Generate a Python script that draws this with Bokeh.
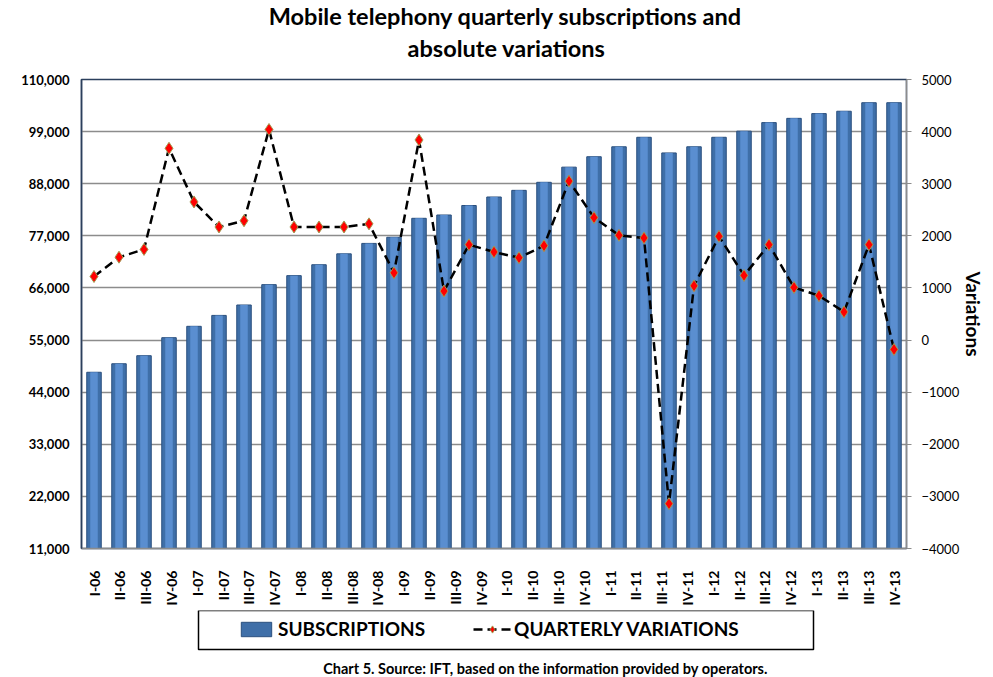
import numpy as np
from bokeh.plotting import figure
from bokeh.layouts import column
from bokeh.models import (Range1d, LinearAxis, FixedTicker, NumeralTickFormatter,
                          Legend, LegendItem, ColumnDataSource, Label, BoxAnnotation)
from bokeh.embed import file_html
from bokeh.resources import INLINE

# ---- data (thousands) ----
quarter_labels = ["I-06", "II-06", "III-06", "IV-06", "I-07", "II-07", "III-07", "IV-07",
                  "I-08", "II-08", "III-08", "IV-08", "I-09", "II-09", "III-09", "IV-09",
                  "I-10", "II-10", "III-10", "IV-10", "I-11", "II-11", "III-11", "IV-11",
                  "I-12", "II-12", "III-12", "IV-12", "I-13", "II-13", "III-13", "IV-13"]

subscriptions = [48200, 50000, 51700, 55500, 57900, 60200, 62400, 66700, 68600, 70900,
                 73200, 75400, 76700, 80700, 81400, 83400, 85200, 86600, 88300, 91500,
                 93700, 95800, 97800, 94500, 95800, 97800, 99100, 100900, 101800, 102800,
                 103300, 105100, 105100]

variations = [1220, 1590, 1740, 3680, 2650, 2170, 2290, 4040, 2170, 2170,
              2170, 2230, 1290, 3840, 940, 1830, 1690, 1580, 1810, 3050,
              2350, 2010, 1960, -3140, 1040, 1990, 1240, 1830, 1010, 850,
              540, 1830, -180]

left_ticks = list(range(11000, 110001, 11000))
right_ticks = list(range(-4000, 5001, 1000))

title_lines = ["Mobile telephony quarterly subscriptions and", "absolute variations"]
caption = "Chart 5. Source: IFT, based on the information provided by operators."

FONT = "Lato"
BAR_FILL, BAR_EDGE, BAR_LIGHT = "#3f6fa8", "#2a4f7e", "#5a8ed0"

n_bars = len(subscriptions)
n_labels = len(quarter_labels)
xs = list(range(n_bars))
src = ColumnDataSource(dict(x=xs, subs=subscriptions, var=variations))

W = 993
H_TOP, H_MAIN, H_BOT = 70, 540, 67
FRAME_LEFT = 81   # the column aligns every block's frame with the main chart's frame


def bare(height):
    f = figure(width=W, height=height, output_backend="svg", toolbar_location=None,
               title=None, x_axis_location=None, y_axis_location=None,
               x_range=Range1d(0, 1), y_range=Range1d(0, 1), min_border=0)
    f.outline_line_color = None
    f.grid.visible = False
    f.background_fill_color = "white"
    f.border_fill_color = "white"
    return f


# ---------- title block ----------
p0 = bare(H_TOP)
for txt, xc, yc in zip(title_lines, [505, 506], [55, 23]):
    p0.add_layout(Label(x=xc - FRAME_LEFT, y=yc, x_units="screen", y_units="screen",
                        text=txt, text_align="center", text_baseline="middle",
                        text_font=FONT, text_font_style="bold",
                        text_font_size="23.5px", text_color="black"))

# ---------- main chart ----------
p = figure(width=W, height=H_MAIN, output_backend="svg", toolbar_location=None,
           title=None,
           x_range=Range1d(-0.5, n_bars - 0.5),
           y_range=Range1d(left_ticks[0], left_ticks[-1]),
           x_axis_location=None,
           min_border_left=FRAME_LEFT, min_border_right=87,
           min_border_top=9, min_border_bottom=62)
p.background_fill_color = "white"
p.border_fill_color = "white"
p.outline_line_color = "#2b3f5c"
p.outline_line_width = 1.5

# label axis range: first label over first bar, last label over last bar
span = (n_labels - 1) * n_bars / (n_bars - 1)
lab_start = -0.5 / n_bars * span
p.extra_x_ranges = {"lab": Range1d(lab_start, lab_start + span)}
p.extra_y_ranges = {"var": Range1d(right_ticks[0], right_ticks[-1])}

p.xgrid.visible = False
p.ygrid.ticker = FixedTicker(ticks=left_ticks)
p.ygrid.grid_line_color = "#8c8c8c"
p.ygrid.grid_line_width = 1.3

p.vbar(x="x", top="subs", bottom=left_ticks[0], width=0.58, source=src,
       fill_color=BAR_FILL, line_color=BAR_EDGE, line_width=1)
p.vbar(x="x", top="subs", bottom=left_ticks[0], width=0.3, source=src,
       fill_color=BAR_LIGHT, line_color=None)
p.line(x="x", y="var", source=src, y_range_name="var",
       line_color="black", line_width=2.5, line_dash="9 5")
p.scatter(x="x", y="var", source=src, y_range_name="var", marker="diamond",
          size=12, fill_color="#ff0000", line_color="#a39a52", line_width=1)

ya = p.yaxis[0]
ya.ticker = FixedTicker(ticks=left_ticks)
ya.formatter = NumeralTickFormatter(format="0,0")
ya.major_label_text_font = FONT
ya.major_label_text_font_style = "bold"
ya.major_label_text_font_size = "13px"
ya.major_label_text_color = "black"
ya.major_tick_out = 0
ya.major_tick_in = 0
ya.minor_tick_out = 0
ya.minor_tick_in = 0
ya.major_label_standoff = 12
ya.axis_line_color = "#2b3f5c"
ya.axis_line_width = 1.5

ra = LinearAxis(y_range_name="var", ticker=FixedTicker(ticks=right_ticks),
                axis_label="Variations")
ra.major_label_text_font = FONT
ra.major_label_text_font_size = "13px"
ra.major_label_text_color = "black"
ra.major_tick_out = 5
ra.major_tick_in = 0
ra.minor_tick_out = 0
ra.minor_tick_in = 0
ra.major_tick_line_color = "#8c8c8c"
ra.axis_line_color = "#8c8c8c"
ra.axis_line_width = 1.3
ra.major_label_standoff = 10
ra.axis_label_text_font = FONT
ra.axis_label_text_font_style = "bold"
ra.axis_label_text_font_size = "19px"
ra.axis_label_text_color = "black"
ra.axis_label_standoff = 0
p.add_layout(ra, "right")

xa = LinearAxis(x_range_name="lab", ticker=FixedTicker(ticks=list(range(n_labels))),
                major_label_overrides={i: q for i, q in enumerate(quarter_labels)})
xa.major_label_orientation = np.pi / 2
xa.major_label_text_font = FONT
xa.major_label_text_font_style = "bold"
xa.major_label_text_font_size = "14px"
xa.major_label_text_color = "black"
xa.major_tick_out = 0
xa.major_tick_in = 0
xa.minor_tick_out = 0
xa.minor_tick_in = 0
xa.major_label_standoff = 22
xa.axis_line_color = "#8c8c8c"
xa.axis_line_width = 1.5
p.add_layout(xa, "below")

# ---------- legend + caption block ----------
# hidden copies of the two series only supply the legend swatches
p2 = bare(H_BOT)
lg_bar = p2.vbar(x="x", top="subs", bottom=left_ticks[0], width=0.58, source=src,
                 fill_color=BAR_FILL, line_color=BAR_EDGE, line_width=1, visible=False)
lg_line = p2.line(x="x", y="var", source=src, line_color="black", line_width=2.5,
                  line_dash="9 5", visible=False)
lg_mark = p2.scatter(x="x", y="var", source=src, marker="diamond", size=12,
                     fill_color="#ff0000", line_color="#a39a52", line_width=1,
                     visible=False)

# wide legend frame (as in the reference, wider than its items)
p2.add_layout(BoxAnnotation(left=198 - FRAME_LEFT, right=813 - FRAME_LEFT,
                            bottom=28, top=67,
                            left_units="screen", right_units="screen",
                            bottom_units="screen", top_units="screen",
                            fill_color=None, fill_alpha=0, line_color="black",
                            line_width=1.5, line_alpha=1.0, level="underlay"))

legend = Legend(items=[LegendItem(label="SUBSCRIPTIONS", renderers=[lg_bar]),
                       LegendItem(label="QUARTERLY VARIATIONS",
                                  renderers=[lg_line, lg_mark])],
                orientation="horizontal", location=(237 - FRAME_LEFT, 37),
                click_policy="none",
                border_line_color=None, background_fill_alpha=0.0,
                label_text_font=FONT, label_text_font_style="bold",
                label_text_font_size="19px", label_text_color="black",
                glyph_width=38, glyph_height=18, spacing=48, padding=0,
                margin=0, label_standoff=3)
p2.add_layout(legend)
p2.add_layout(Label(x=545 - FRAME_LEFT, y=9, x_units="screen", y_units="screen",
                    text=caption, text_align="center", text_baseline="middle",
                    text_font=FONT, text_font_style="bold", text_font_size="14.5px",
                    text_color="black"))

layout = column(p0, p, p2, spacing=0)
open("out.html", "w").write(file_html(layout, INLINE))
